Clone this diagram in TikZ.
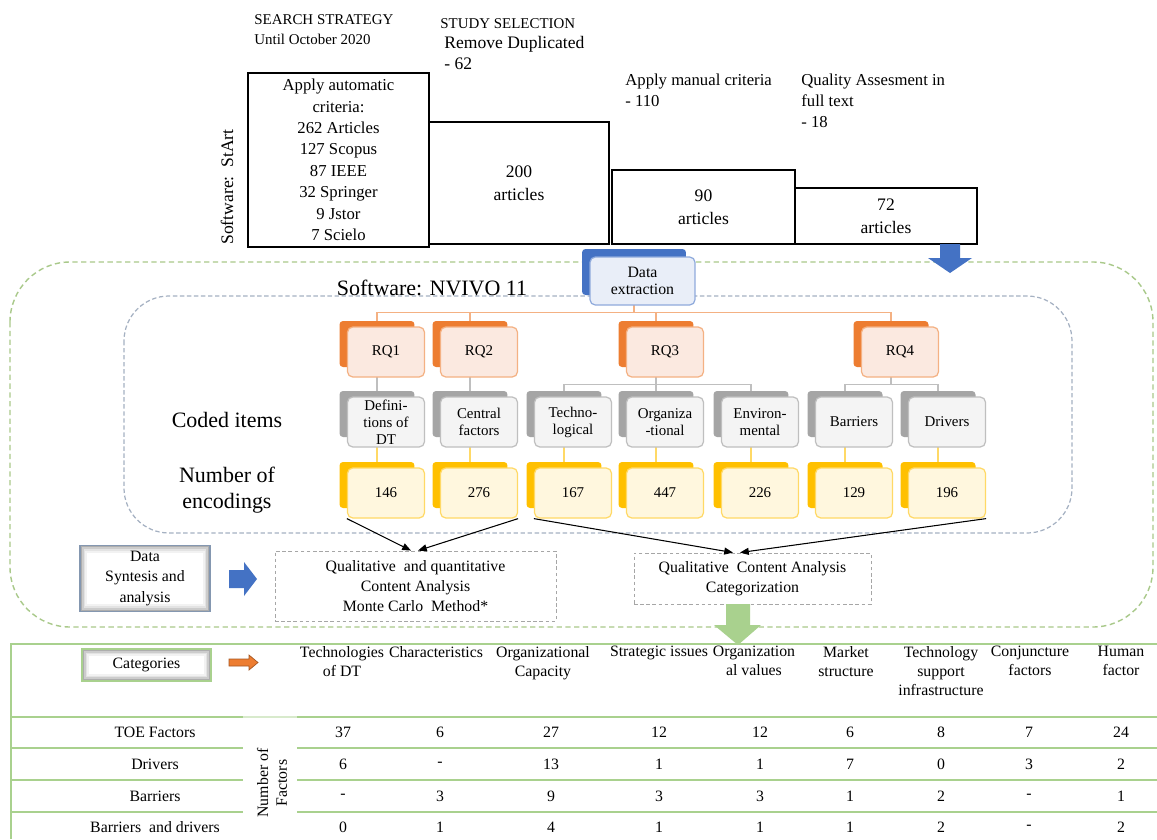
\documentclass[tikz,border=0pt]{standalone}
\usepackage{fontspec}
\setmainfont{Liberation Serif}
\usetikzlibrary{arrows.meta,positioning}
\definecolor{blueD}{HTML}{4472C4}
\definecolor{blueL}{HTML}{E9EEF8}
\definecolor{blueB}{HTML}{8FAADC}
\definecolor{orD}{HTML}{ED7D31}
\definecolor{orL}{HTML}{FBE9E0}
\definecolor{orB}{HTML}{F4B183}
\definecolor{grD}{HTML}{A5A5A5}
\definecolor{grL}{HTML}{F4F4F4}
\definecolor{grB}{HTML}{BFBFBF}
\definecolor{yeD}{HTML}{FFC000}
\definecolor{yeL}{HTML}{FFF7DE}
\definecolor{yeB}{HTML}{FFD966}
\definecolor{greenT}{HTML}{A9D18E}
\definecolor{greenDash}{HTML}{A9C98A}
\definecolor{slate}{HTML}{8497B0}
\definecolor{innerDash}{HTML}{A5B1C2}
\newcommand{\fsz}[2]{\fontsize{#1}{#2}\selectfont}
\tikzset{
  plainbox/.style={draw, line width=0.6pt, inner sep=0pt, align=center},
  back/.style={rounded corners=2pt, minimum width=1.5cm, minimum height=0.92cm, inner sep=0pt},
  front/.style={rounded corners=3pt, line width=0.7pt, minimum width=1.54cm, minimum height=1cm, inner sep=1pt, align=center, font=\fsz{8.5}{9.6}},
  rqback/.style={back, fill=orD},
  rqfront/.style={front, draw=orB, fill=orL},
  cback/.style={back, fill=grD},
  cfront/.style={front, draw=grB, fill=grL},
  nback/.style={back, fill=yeD},
  nfront/.style={front, draw=yeB, fill=yeL},
  rqconn/.style={orB, line width=0.9pt},
  cconn/.style={grB, line width=0.9pt},
  nconn/.style={yeB, line width=0.9pt},
  flow/.style={-{Triangle[length=5pt,width=4pt]}, line width=0.6pt},
  anabox/.style={draw=gray!70, dash pattern=on 2pt off 1.5pt, line width=0.5pt, align=center, font=\fsz{9}{11.4}},
  shadowbox/.style={fill=white, line width=0.7pt, align=center, path picture={
      \foreach \k/\o in {1/0.32,2/0.2,3/0.11,4/0.05}
        \draw[black, opacity=\o, line width=1pt]
          ([xshift={\k*1pt-0.5pt},yshift={\k*1pt-0.5pt}]path picture bounding box.south west)
          rectangle ([xshift={-\k*1pt+0.5pt},yshift={-\k*1pt+0.5pt}]path picture bounding box.north east);}},
  tabline/.style={greenT, line width=1.2pt},
  cell/.style={font=\fsz{9}{10.8}, align=center, inner sep=0pt},
}
\begin{document}
\begin{tikzpicture}[x=0.02cm, y=-0.02cm]
  \useasboundingbox (0,0) rectangle (1157,839);
  \fill[white] (0,0) rectangle (1157,839);
  \draw[greenDash, line width=0.8pt, dash pattern=on 3pt off 2pt, rounded corners=1.2cm] (10,262) rectangle (1153,627);
  \draw[innerDash, line width=0.7pt, dash pattern=on 2.5pt off 1.5pt, rounded corners=0.9cm] (124,296) rectangle (1072,533);

  \node[anchor=west, align=left, inner sep=0pt, font=\fsz{8.5}{11.4}] (strat) at (254,30) {SEARCH STRATEGY\\Until October 2020};
  \node[anchor=west, inner sep=0pt, font=\fsz{8.5}{11.4}] (sel) at (440,24) {STUDY SELECTION};
  \node[anchor=west, align=left, inner sep=0pt, font=\fsz{10}{12.5}] (dupl) at (444,53) {Remove Duplicated\\- 62};
  \node[anchor=west, align=left, inner sep=0pt, font=\fsz{9.5}{12}] (manual) at (625,90.5) {Apply manual criteria\\- 110};
  \node[anchor=west, align=left, inner sep=0pt, font=\fsz{9.5}{12}] (quality) at (801,101) {Quality Assesment in\\full text\\- 18};
  \node[rotate=90, inner sep=0pt, font=\fsz{10}{12}] (startsw) at (227,187) {Software:\ \ StArt};

  \node[plainbox, minimum width=3.62cm, minimum height=3.48cm, font=\fsz{9.5}{12.2}] (auto) at (338.5,160) {Apply automatic\\criteria:\\262 Articles\\127 Scopus\\87 IEEE\\32 Springer\\9 Jstor\\7 Scielo};
  \node[plainbox, minimum width=3.6cm, minimum height=2.44cm, font=\fsz{10}{13}] (art200) at (519,183) {200\\articles};
  \node[plainbox, minimum width=3.66cm, minimum height=1.48cm, font=\fsz{10}{13}] (art90) at (703.5,207) {90\\articles};
  \node[plainbox, minimum width=3.64cm, minimum height=1.12cm, font=\fsz{10}{13}] (art72) at (886,216) {72\\articles};
  \fill[blueD] (940,244) -- (960,244) -- (960,258) -- (972,258) -- (950,273) -- (928,258) -- (940,258) -- cycle;

  \node[font=\fsz{12.5}{15}, inner sep=0pt] (nvivo) at (432,288) {Software: NVIVO 11};
  \node[font=\fsz{12.5}{15}, inner sep=0pt] (coded) at (227,420) {Coded items};
  \node[font=\fsz{12.5}{14.8}, align=center, inner sep=0pt] (enc) at (227,490) {Number of\\encodings};

  \node[back, fill=blueD, minimum width=2.08cm] (extb) at (634,272) {};
  \node[rqback] (rq1b) at (377,344) {};
  \node[rqback] (rq2b) at (470,344) {};
  \node[rqback] (rq3b) at (656,344) {};
  \node[rqback] (rq4b) at (891,344) {};
  \foreach \n/\c in {1/377,2/470,3/564,4/656,5/751,6/845,7/938}{
    \node[cback] (ci\n b) at (\c,414) {};
    \node[nback] (nc\n b) at (\c,485) {};
  }
  \foreach \n in {1,2,3,4}
    \draw[rqconn] (extb.south) -- ++(0,17) -| (rq\n b.north);
  \draw[cconn] (rq1b.south) -- (ci1b.north);
  \draw[cconn] (rq2b.south) -- (ci2b.north);
  \foreach \n in {3,4,5}
    \draw[cconn] (rq3b.south) -- ++(0,17) -| (ci\n b.north);
  \foreach \n in {6,7}
    \draw[cconn] (rq4b.south) -- ++(0,17) -| (ci\n b.north);
  \foreach \n in {1,...,7}
    \draw[nconn] (ci\n b.south) -- (nc\n b.north);

  \node[front, draw=blueB, fill=blueL, minimum width=2.1cm, minimum height=0.96cm, font=\fsz{9}{10}] (ext) at ([shift={(8.5,9)}]extb) {Data\\extraction};
  \foreach \n in {1,2,3,4}
    \node[rqfront] (rq\n) at ([shift={(9,8)}]rq\n b) {RQ\n};
  \foreach \n/\txt in {1/{Defini-\\tions of\\DT},2/{Central\\factors},3/{Techno-\\logical},4/{Organiza\\-tional},5/{Environ-\\mental},6/Barriers,7/Drivers}
    \node[cfront] (ci\n) at ([shift={(9,8)}]ci\n b) {\txt};
  \foreach \n/\v in {1/146,2/276,3/167,4/447,5/226,6/129,7/196}
    \node[nfront] (num\n) at ([shift={(9,8)}]nc\n b) {\v};

  \node[shadowbox, draw=slate, minimum width=2.6cm, minimum height=1.22cm, font=\fsz{9}{11.4}] (synth) at (145,578.5) {Data\\Syntesis and\\analysis};
  \fill[blueD] (229,570) -- (244,570) -- (244,562) -- (257,579) -- (244,596) -- (244,588) -- (229,588) -- cycle;
  \node[anabox, minimum width=5.62cm, minimum height=1.4cm] (qa) at (415.5,586) {Qualitative\ \ and quantitative\\Content Analysis\\Monte Carlo\ \ Method*};
  \node[anabox, minimum width=4.74cm, minimum height=1.02cm] (qc) at (752.5,578.5) {Qualitative\ \ Content Analysis\\Categorization};
  \draw[flow] (num1.south west) -- ([xshift=-0.09cm]qa.north);
  \draw[flow] (num2.south east) -- ([xshift=0.05cm]qa.north);
  \draw[flow] (num3.south west) -- ([xshift=-0.39cm]qc.north);
  \draw[flow] (num7.south east) -- ([xshift=-0.25cm]qc.north);
  \fill[greenT] (726,604) -- (750,604) -- (750,625) -- (761,625) -- (738,645) -- (714,625) -- (726,625) -- cycle;

  \draw[tabline] (10,644) -- (1157,644);
  \draw[tabline] (11,644) -- (11,839);
  \draw[tabline] (11,717) -- (243,717);
  \draw[greenT!45, line width=1.2pt] (243,717) -- (297,717);
  \draw[tabline] (297,717) -- (1157,717);
  \foreach \y in {748,780,812}{
    \draw[tabline] (11,\y) -- (243,\y);
    \draw[tabline] (297,\y) -- (1157,\y);
  }
  \node[shadowbox, draw=greenT, minimum width=2.58cm, minimum height=0.64cm, font=\fsz{9}{10.8}] (catbox) at (146.5,665) {Categories};
  \draw[orD!70!black, fill=orD, line width=0.4pt] (229,659) -- (249,659) -- (249,655) -- (258,662.5) -- (249,670) -- (249,666) -- (229,666) -- cycle;
  \foreach \x/\txt [count=\i] in {342/{Technologies\\of DT},436/Characteristics,543/{Organizational\\Capacity},659/Strategic issues,754/{Organization\\al values},846/{Market\\structure},941/{Technology\\support\\infrastructure},1030/{Conjuncture\\factors},1121/{Human\\factor}}
    \node[cell, anchor=north] (cat\i) at (\x,646) {\txt};
  \node[cell, rotate=90] (nof) at (272,783) {Number of\\Factors};
  \foreach \lab/\y/\vals [count=\r] in {TOE Factors/732/{37,6,27,12,12,6,8,7,24},Drivers/764/{6,-,13,1,1,7,0,3,2},Barriers/796/{-,3,9,3,3,1,2,-,1},Barriers\ \ and drivers/827/{0,1,4,1,1,1,2,-,2}}{
    \node[cell] (row\r) at (155,\y) {\lab};
    \foreach \v [count=\i] in \vals {
      \pgfmathsetmacro{\cx}{{343,440,551,659,760,850,941,1029,1121}[\i-1]}
      \node[cell] (val\r-\i) at (\cx,\y) {\v};
    }
  }
\end{tikzpicture}
\end{document}
